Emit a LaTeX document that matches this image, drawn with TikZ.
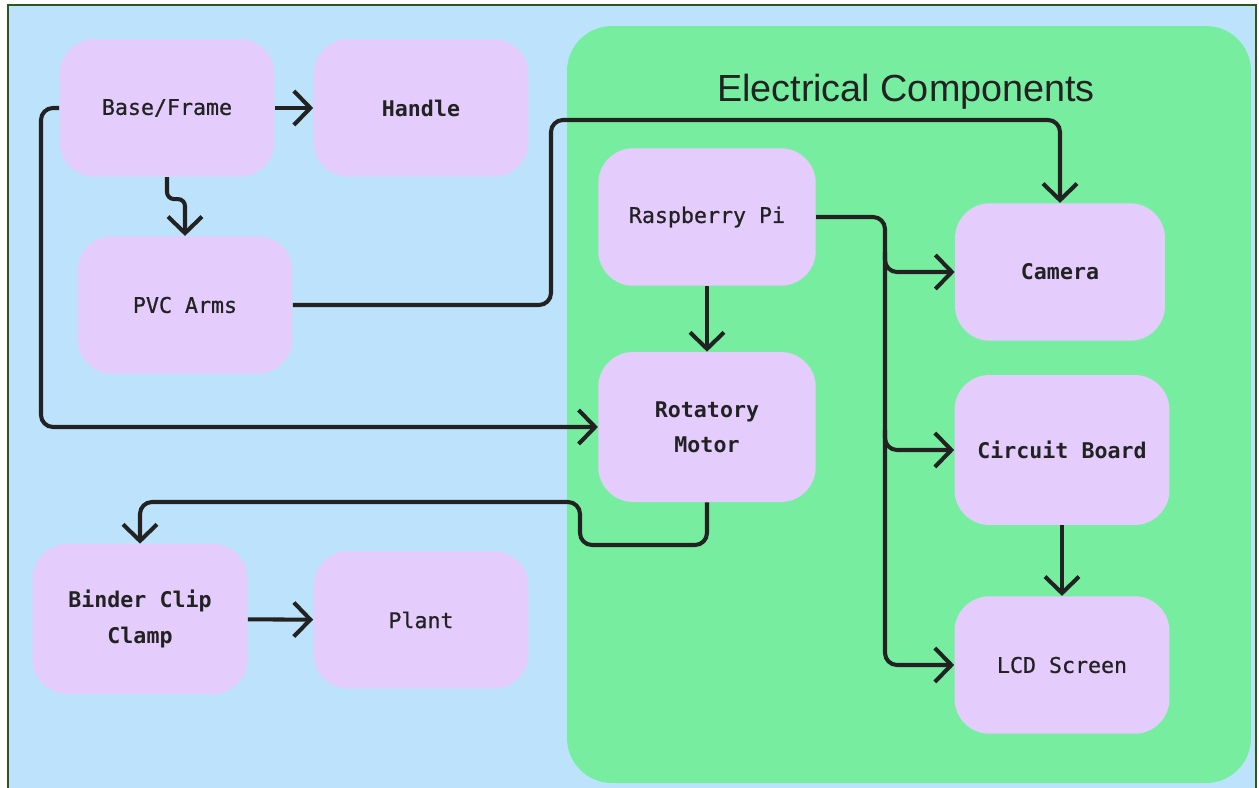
\documentclass[tikz,border=0pt]{standalone}
\usepackage{fontspec}
\newfontfamily\boxfont[FakeBold=0.7]{DejaVu Sans Mono}
\newfontfamily\boldboxfont{DejaVu Sans Mono Bold}
\newfontfamily\titlefont{Liberation Sans}
\usepackage{tikz}
\usetikzlibrary{calc,positioning,arrows.meta}
\definecolor{skyblue}{HTML}{BDE3FC}
\definecolor{elecgreen}{HTML}{77EE9F}
\definecolor{lavender}{HTML}{E4CCFD}
\definecolor{inkline}{HTML}{222222}
\definecolor{framegreen}{HTML}{2F561C}

\begin{document}
\begin{tikzpicture}[x=0.02cm,y=-0.02cm,
  part/.style={fill=lavender,rounded corners=0.7cm,minimum width=4.3cm,minimum height=2.75cm,
    align=center,text=inkline,font=\boxfont\fontsize{12.3}{20}\selectfont},
  strong/.style={part,font=\boldboxfont\fontsize{12.3}{20}\selectfont},
  conn/.style={draw=inkline,line width=2.3pt,rounded corners=0.24cm,
    -{Straight Barb[length=0.33cm,width=0.68cm,line width=2.3pt]}}]
\useasboundingbox (0,0) rectangle (1259,788);
\fill[white] (0,0) rectangle (1259,788);
\fill[skyblue] (8,5) rectangle (1256,788);
\draw[framegreen,line width=1.2pt] (8,790) -- (8,5) -- (1256,5) -- (1256,790);
\fill[elecgreen,rounded corners=0.9cm] (567,26) rectangle (1251,783);
\node[font=\titlefont\fontsize{21.5}{24}\selectfont,text=inkline] (title) at (906,92) {Electrical Components};

% mechanical parts
\node[part] (base) at (167,108) {Base/Frame};
\node[strong] (handle) at (421,108) {Handle};
\node[part] (pvc) at (185,305) {PVC Arms};
\node[strong,minimum height=3cm] (binder) at (140,619) {Binder Clip\\Clamp};
\node[part] (plant) at (421,620) {Plant};

% electrical parts
\node[part,minimum width=4.35cm] (rpi) at (707,217) {Raspberry Pi};
\node[strong,minimum width=4.35cm,minimum height=3cm] (motor) at (707,427) {Rotatory\\Motor};
\node[strong,minimum width=4.2cm] (cam) at (1060,272) {Camera};
\node[strong,minimum height=3cm] (circ) at (1062,450) {Circuit Board};
\node[part] (lcd) at (1062,665) {LCD Screen};

\coordinate (rail) at (41,300);
\coordinate (pvcup) at (551,120);
\coordinate (bus) at (885,400);
\coordinate (dip) at (580,545);
\coordinate (ret) at (580,502);

\draw[conn] (base) -- (handle);
\draw[conn,rounded corners=4pt] (base.south) -- ++(0,22) -| (pvc.north);
\draw[conn] (base.west) -- (base.west -| rail) -- (motor.west -| rail) -- (motor.west);
\draw[conn] (pvc.east) -| (pvcup) -| (cam.north);
\draw[conn] (rpi) -- (motor);
\draw[conn] (rpi.east) -- (rpi.east -| bus) -- (lcd.west -| bus) -- (lcd.west);
\draw[conn] ($(cam.west -| bus)+(0,-20)$) |- (cam.west);
\draw[conn] ($(circ.west -| bus)+(0,-20)$) |- (circ.west);
\draw[conn] (motor.south) |- (dip) -- (ret) -| (binder.north);
\draw[conn] (circ) -- (lcd);
\draw[conn] (binder) -- (plant);
\end{tikzpicture}
\end{document}
